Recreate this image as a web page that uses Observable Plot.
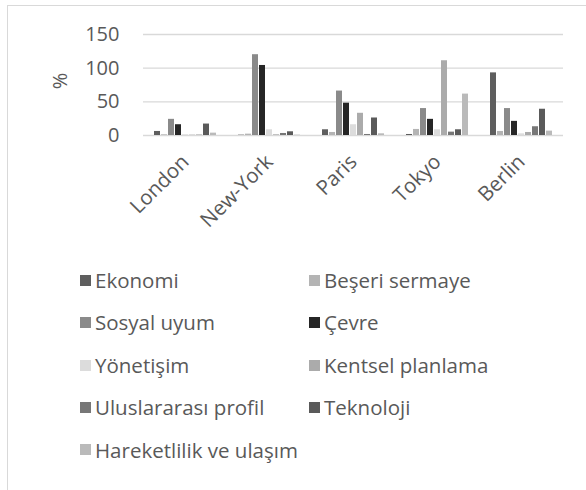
<!DOCTYPE html>
<html><head><meta charset="utf-8">
<script src="https://cdn.jsdelivr.net/npm/d3@7"></script>
<script src="https://cdn.jsdelivr.net/npm/@observablehq/plot@0.6"></script>
<style>
body{margin:0;background:#fff;font-family:"Open Sans",sans-serif;}
#wrap{position:relative;width:586px;height:490px;overflow:hidden;}
#frame{position:absolute;left:7px;top:5px;width:620px;height:520px;border:1px solid #d9d9d9;box-sizing:border-box;}
#chart{position:absolute;left:0;top:0;}
#legend{position:absolute;left:0;top:0;width:586px;height:490px;}
.item{position:absolute;display:flex;align-items:center;font-size:20.5px;color:#595959;white-space:nowrap;line-height:1;}
.sw{width:11px;height:11px;margin-right:4px;flex:none;}
</style></head><body>
<div id="wrap"><div id="frame"></div><div id="chart"></div><div id="legend"></div></div>
<script>
const cities = ["London", "New-York", "Paris", "Tokyo", "Berlin"];
const series = ["Ekonomi", "Beşeri sermaye", "Sosyal uyum", "Çevre", "Yönetişim", "Kentsel planlama", "Uluslararası profil", "Teknoloji", "Hareketlilik ve ulaşım"];
const colors = ["#5e5e5e", "#b4b4b4", "#8a8a8a", "#262626", "#dcdcdc", "#ababab", "#777777", "#5a5a5a", "#bababa"];
// values per series, in city order
const ekonomi      = [6, 0.5, 8.5, 1.5, 93];
const beseri       = [1, 2, 4.5, 9, 6];
const sosyal       = [24, 120, 66, 40, 40];
const cevre        = [16, 104, 48, 24, 21];
const yonetisim    = [1, 8.5, 16, 8.5, 2.5];
const kentsel      = [0.5, 1, 33, 111, 4.5];
const uluslararasi = [0.5, 3, 1.5, 5, 13];
const teknoloji    = [17, 5.5, 26, 8.5, 39];
const hareketlilik = [3.5, 0.5, 2.5, 61.5, 6.5];
const yTicks = [0, 50, 100, 150];

const values = [ekonomi, beseri, sosyal, cevre, yonetisim, kentsel, uluslararasi, teknoloji, hareketlilik];
const data = [];
cities.forEach((c, i) => series.forEach((s, j) => data.push({city: c, series: s, value: values[j][i]})));

const plot = Plot.plot({
  width: 586, height: 262,
  marginTop: 34, marginBottom: 127, marginLeft: 141, marginRight: 21,
  style: {fontFamily: "'Open Sans', sans-serif", fontSize: "20px", color: "#595959", background: "transparent"},
  fx: {domain: cities, padding: 0, label: null},
  x: {domain: series, paddingInner: 0.18, paddingOuter: 0.9, axis: null},
  y: {domain: [0, 150], label: null},
  color: {domain: series, range: colors},
  marks: [
    Plot.gridY(yTicks, {stroke: "#d9d9d9", strokeOpacity: 1, strokeWidth: 1.4}),
    Plot.barY(data, {fx: "city", x: "series", y: "value", fill: "series"}),
    Plot.axisY(yTicks, {tickSize: 0, tickPadding: 24, fontSize: 20, label: null}),
    Plot.axisFx({anchor: "bottom", tickRotate: -45, tickSize: 0, tickPadding: 23, fontSize: 20.5, label: null})
  ]
});
document.getElementById("chart").appendChild(plot);

d3.select(plot).append("text")
  .attr("transform", "translate(67,81) rotate(-90)")
  .attr("text-anchor", "middle")
  .attr("fill", "#595959")
  .style("font-size", "20px")
  .text("%");

const legend = document.getElementById("legend");
series.forEach((s, j) => {
  const col = j % 2, row = Math.floor(j / 2);
  const d = document.createElement("div");
  d.className = "item";
  d.style.left = (col === 0 ? 80 : 309) + "px";
  d.style.top = (280.3 + row * 42.4 - 10) + "px";
  d.style.height = "20px";
  d.innerHTML = `<span class="sw" style="background:${colors[j]}"></span><span>${s}</span>`;
  legend.appendChild(d);
});
</script>
</body></html>
